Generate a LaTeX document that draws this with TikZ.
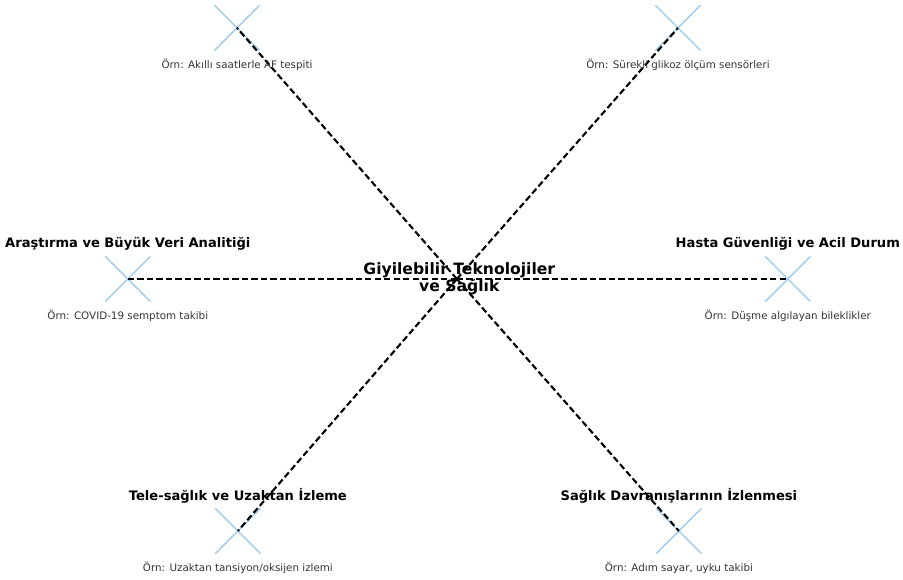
\documentclass[tikz,border=0pt]{standalone}
\usepackage{fontspec}
\setmainfont{DejaVu Sans}
\usetikzlibrary{positioning,shapes.misc}
\definecolor{markblue}{RGB}{160,205,235}

\begin{document}
\begin{tikzpicture}[
  xmark/.style={cross out, draw=markblue, line width=1.3pt, minimum size=1.46cm, inner sep=0pt},
  link/.style={line width=2pt, dash pattern=on 6pt off 3pt},
  title/.style={font=\bfseries\fontsize{12.4}{14}\selectfont},
  example/.style={font=\fontsize{9.8}{12}\selectfont, text=black!80},
  hub/.style={font=\bfseries\fontsize{14.8}{16}\selectfont, align=center, inner sep=0pt}]
% 1 cm = 30 px of the original, hub at the origin
\useasboundingbox (-15.23,-10.0) rectangle (14.87,9.3);
\coordinate (c) at (0,0);
\foreach \n/\x/\y in {tl/-7.33/8.37, tr/7.37/8.37, l/-10.97/0, r/11.03/0, bl/-7.3/-8.4, br/7.4/-8.4}
  \node[xmark] (m\n) at (\x,\y) {};
\foreach \n in {tl,tr,l,r,bl,br}
  \draw[link] (c) -- (m\n.center);
% the titles of the two upper items fall outside the frame
\foreach \n/\t in {l/Araştırma ve Büyük Veri Analitiği, r/Hasta Güvenliği ve Acil Durum,
                   bl/Tele-sağlık ve Uzaktan İzleme, br/Sağlık Davranışlarının İzlenmesi}
  \node[title] (t\n) at ([yshift=1.18cm]m\n.center) {\t};
\foreach \n/\e in {tl/{Örn: Akıllı saatlerle AF tespiti}, tr/{Örn: Sürekli glikoz ölçüm sensörleri},
                   l/{Örn: COVID-19 semptom takibi}, r/{Örn: Düşme algılayan bileklikler},
                   bl/{Örn: Uzaktan tansiyon/oksijen izlemi}, br/{Örn: Adım sayar, uyku takibi}}
  \node[example] (e\n) at ([yshift=-1.22cm]m\n.center) {\e};
\node[hub] (hub) at ([xshift=0.08cm]c) {Giyilebilir Teknolojiler\\ve Sağlık};
\end{tikzpicture}
\end{document}
